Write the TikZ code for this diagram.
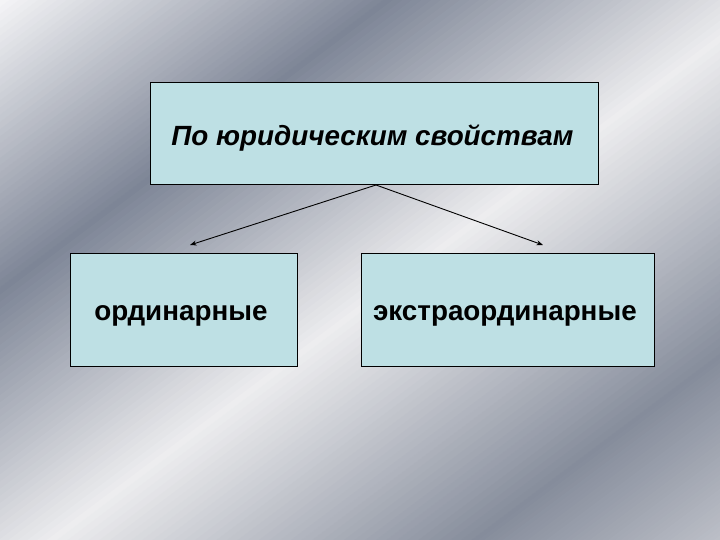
\documentclass[tikz,border=0pt]{standalone}
\usepackage{fontspec}
\setmainfont{Liberation Sans}
\usetikzlibrary{arrows.meta}
\definecolor{cA}{HTML}{F4F4F6}
\definecolor{cB}{HTML}{7D8596}
\definecolor{cC}{HTML}{EDEDEF}
\definecolor{cD}{HTML}{858C9B}
\definecolor{cE}{HTML}{BDC0C8}
\definecolor{boxfill}{HTML}{BEE0E4}
\tikzset{
  box/.style={draw=black, line width=0.8pt, fill=boxfill, inner sep=0pt, anchor=north west},
  label/.style={font=\bfseries\fontsize{27.8}{32}\selectfont, text=black},
  link/.style={line width=0.9pt, -{Stealth[length=6.5pt,width=5pt]}}
}
\begin{document}
\begin{tikzpicture}[x=1pt,y=-1pt]
\useasboundingbox (0,0) rectangle (720,540);
% background metallic gradient
\begin{scope}
\clip (0,0) rectangle (720,540);
\begin{scope}[rotate=-53.13]
\fill[cA] (-200,-1000) rectangle (0.5,1000);
\foreach \a/\b/\ua/\ub in {cA/cB/0/230, cB/cC/230/460, cC/cD/460/715, cD/cE/715/864}{
  \foreach \j in {0,...,39}{
    \pgfmathsetmacro{\pa}{100-2.5*\j}
    \pgfmathsetmacro{\ustart}{\ua+(\ub-\ua)*\j/40}
    \pgfmathsetmacro{\uend}{\ua+(\ub-\ua)*(\j+1)/40+0.6}
    \fill[\a!\pa!\b] (\ustart,-1000) rectangle (\uend,1000);
  }
}
\fill[cE] (863,-1000) rectangle (1100,1000);
\end{scope}
\end{scope}
% boxes
\node[box, minimum width=448pt, minimum height=102pt] (top) at (150,82) {};
\node[box, minimum width=227pt, minimum height=113pt] (left) at (70,253) {};
\node[box, minimum width=293pt, minimum height=113pt] (right) at (361,253) {};
\node[label, font=\bfseries\itshape\fontsize{27.8}{32}\selectfont] (toptext) at ([xshift=-2pt,yshift=-5pt]top.center) {По юридическим свойствам};
\node[label] (lefttext) at ([xshift=-3pt,yshift=-6pt]left.center) {ординарные};
\node[label] (righttext) at ([xshift=-3pt,yshift=-6pt]right.center) {экстраординарные};
% connectors
\coordinate (lend) at (190,245);
\coordinate (rend) at (543,245);
\coordinate (src) at (376,185);
\draw[link] (src) -- (lend);
\draw[link] (src) -- (rend);
\end{tikzpicture}
\end{document}
